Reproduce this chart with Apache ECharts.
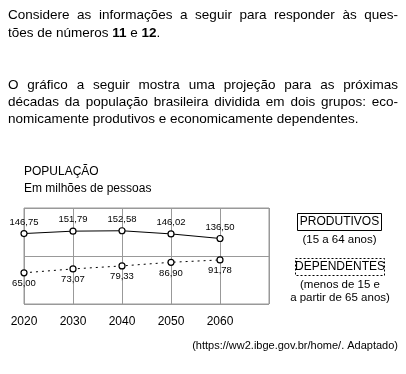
<!DOCTYPE html>
<html>
<head>
<meta charset="utf-8">
<script src="https://cdn.jsdelivr.net/npm/echarts@6/dist/echarts.min.js"></script>
<style>html,body{margin:0;padding:0;background:#fff}#c{width:406px;height:374px}</style>
</head>
<body>
<div id="c"></div>
<script>
var years = [2020, 2030, 2040, 2050, 2060];
var produtivos = [146.75, 151.79, 152.58, 146.02, 136.50];
var dependentes = [65.00, 73.07, 79.33, 86.90, 91.78];
var yearLabels = ['2020', '2030', '2040', '2050', '2060'];

var FF = '"Liberation Sans", Arial, sans-serif';
var chart = echarts.init(document.getElementById('c'), null, {renderer: 'canvas'});

var ctx = document.createElement('canvas').getContext('2d');
function justify(line, y, x0, x1, size) {
  ctx.font = size + 'px ' + FF;
  var words = line.split(' ');
  var widths = words.map(function (w) { return ctx.measureText(w).width; });
  var total = widths.reduce(function (a, b) { return a + b; }, 0);
  var gap = (x1 - x0 - total) / (words.length - 1);
  var x = x0, out = [];
  words.forEach(function (w, i) {
    out.push({type: 'text', x: x, y: y, style: {text: w, fontSize: size, fontFamily: FF, fill: '#000', textVerticalAlign: 'middle'}});
    x += widths[i] + gap;
  });
  return out;
}
function plain(t, x, y, size, align) {
  return {type: 'text', x: x, y: y, style: {text: t, fontSize: size, fontFamily: FF, fill: '#000', textAlign: align || 'left', textVerticalAlign: 'middle'}};
}

var PS = 13.5;
var graphics = [];
graphics = graphics.concat(justify('Considere as informações a seguir para responder às ques-', 15, 8, 398, PS));
graphics.push({type: 'text', x: 8, y: 33, style: {
  text: 'tões de números {b|11} e {b|12}.', fontSize: PS, fontFamily: FF, fill: '#000', textVerticalAlign: 'middle',
  rich: {b: {fontSize: PS, fontFamily: FF, fontWeight: 'bold', fill: '#000'}}
}});
graphics = graphics.concat(justify('O gráfico a seguir mostra uma projeção para as próximas', 85, 8, 398, PS));
graphics = graphics.concat(justify('décadas da população brasileira dividida em dois grupos: eco-', 102, 8, 398, PS));
graphics.push(plain('nomicamente produtivos e economicamente dependentes.', 8, 119, PS));

graphics.push(plain('POPULAÇÃO', 24, 172, 12));
graphics.push(plain('Em milhões de pessoas', 24, 189, 12));

graphics.push({type: 'rect', shape: {x: 297.5, y: 213.5, width: 84, height: 17}, style: {fill: 'none', stroke: '#000', lineWidth: 1}});
graphics.push(plain('PRODUTIVOS', 339.5, 222, 12, 'center'));
graphics.push(plain('(15 a 64 anos)', 339.5, 240, 11.5, 'center'));
graphics.push({type: 'rect', shape: {x: 295.5, y: 258.5, width: 89, height: 17}, style: {fill: 'none', stroke: '#000', lineWidth: 1, lineDash: [2, 2]}});
graphics.push(plain('DEPENDENTES', 340, 267, 12, 'center'));
graphics.push(plain('(menos de 15 e', 340, 285, 11.5, 'center'));
graphics.push(plain('a partir de 65 anos)', 340, 298, 11.5, 'center'));

graphics.push(plain('(https://ww2.ibge.gov.br/home/. Adaptado)', 398, 346, 11, 'right'));

function fmt(p) { return p.value[1].toFixed(2).replace('.', ','); }

chart.setOption({
  animation: false,
  backgroundColor: '#fff',
  grid: {left: 24, right: 137, top: 208, height: 96, show: true, borderColor: '#999', borderWidth: 1, containLabel: false},
  xAxis: {
    type: 'value', min: 2020, max: 2070, interval: 10,
    axisLine: {show: false}, axisTick: {show: false},
    splitLine: {show: true, lineStyle: {color: '#999', width: 1}},
    axisLabel: {
      color: '#000', fontSize: 12, fontFamily: FF, margin: 12,
      formatter: function (v) { var i = years.indexOf(v); return i >= 0 ? yearLabels[i] : ''; }
    }
  },
  yAxis: {
    type: 'value', min: 0, max: 200, interval: 100,
    axisLine: {show: false}, axisTick: {show: false}, axisLabel: {show: false},
    splitLine: {show: true, lineStyle: {color: '#999', width: 1}}
  },
  series: [
    {
      type: 'line', data: years.map(function (y, i) { return [y, produtivos[i]]; }),
      symbol: 'circle', symbolSize: 6, showAllSymbol: true,
      lineStyle: {color: '#000', width: 1},
      itemStyle: {color: '#fff', borderColor: '#000', borderWidth: 1.2},
      label: {show: true, position: 'top', distance: 3, formatter: fmt, color: '#000', fontSize: 9.5, fontFamily: FF},
      z: 5
    },
    {
      type: 'line', data: years.map(function (y, i) { return [y, dependentes[i]]; }),
      symbol: 'circle', symbolSize: 6, showAllSymbol: true,
      lineStyle: {color: '#000', width: 1, type: [2, 4]},
      itemStyle: {color: '#fff', borderColor: '#000', borderWidth: 1.2},
      label: {show: true, position: 'bottom', distance: 2, formatter: fmt, color: '#000', fontSize: 9.5, fontFamily: FF},
      z: 5
    }
  ],
  graphic: graphics
});
</script>
</body>
</html>
